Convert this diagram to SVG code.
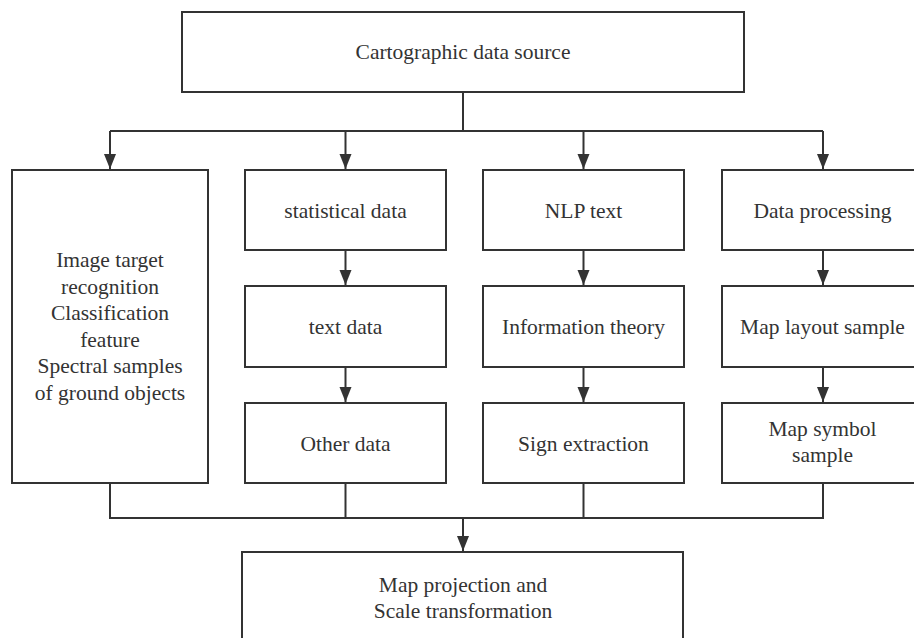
<svg xmlns="http://www.w3.org/2000/svg" width="914" height="638" viewBox="0 0 914 638">
<style>
.box{fill:#fff;stroke:#333;stroke-width:2}
.t{font-family:'Liberation Serif','Times New Roman',serif;font-size:21.5px;fill:#333;text-anchor:middle}
.c{fill:none;stroke:#333;stroke-width:2}
</style>
<defs>
<marker id="ah" markerUnits="userSpaceOnUse" markerWidth="16" markerHeight="13" refX="15" refY="6" orient="auto">
<path d="M0,0 L15,6 L0,12 z" fill="#333"/>
</marker>
</defs>
<rect width="914" height="638" fill="#fff"/>
<g id="connectors">
<path class="c" d="M463,92 V131"/>
<path class="c" d="M110,131 H823"/>
<path class="c" d="M110,131 V169" marker-end="url(#ah)"/>
<path class="c" d="M345.5,131 V169" marker-end="url(#ah)"/>
<path class="c" d="M583.5,131 V169" marker-end="url(#ah)"/>
<path class="c" d="M823,131 V169" marker-end="url(#ah)"/>
<path class="c" d="M345.5,250 V285" marker-end="url(#ah)"/>
<path class="c" d="M345.5,367 V402" marker-end="url(#ah)"/>
<path class="c" d="M583.5,250 V285" marker-end="url(#ah)"/>
<path class="c" d="M583.5,367 V402" marker-end="url(#ah)"/>
<path class="c" d="M823,250 V285" marker-end="url(#ah)"/>
<path class="c" d="M823,367 V402" marker-end="url(#ah)"/>
<path class="c" d="M110,483 V518 H823 V483"/>
<path class="c" d="M345.5,483 V518"/>
<path class="c" d="M583.5,483 V518"/>
<path class="c" d="M463,518 V551" marker-end="url(#ah)"/>
</g>
<g id="source">
<rect class="box" x="182" y="12" width="562" height="80"/>
<text class="t" x="463" y="59">Cartographic data source</text>
</g>
<g id="image">
<rect class="box" x="12" y="170" width="196" height="313"/>
<text class="t" x="110" y="267">Image target<tspan x="110" dy="26.5">recognition</tspan><tspan x="110" dy="26.5">Classification</tspan><tspan x="110" dy="26.5">feature</tspan><tspan x="110" dy="26.5">Spectral samples</tspan><tspan x="110" dy="26.5">of ground objects</tspan></text>
</g>
<g id="statistical">
<rect class="box" x="245" y="170" width="201" height="80"/>
<text class="t" x="345.5" y="217.5">statistical data</text>
</g>
<g id="textdata">
<rect class="box" x="245" y="286" width="201" height="81"/>
<text class="t" x="345.5" y="334">text data</text>
</g>
<g id="other">
<rect class="box" x="245" y="403" width="201" height="80"/>
<text class="t" x="345.5" y="450.5">Other data</text>
</g>
<g id="nlp">
<rect class="box" x="483" y="170" width="201" height="80"/>
<text class="t" x="583.5" y="217.5">NLP text</text>
</g>
<g id="info">
<rect class="box" x="483" y="286" width="201" height="81"/>
<text class="t" x="583.5" y="334">Information theory</text>
</g>
<g id="sign">
<rect class="box" x="483" y="403" width="201" height="80"/>
<text class="t" x="583.5" y="450.5">Sign extraction</text>
</g>
<g id="processing">
<rect class="box" x="722" y="170" width="201" height="80"/>
<text class="t" x="822.5" y="217.5">Data processing</text>
</g>
<g id="layout">
<rect class="box" x="722" y="286" width="201" height="81"/>
<text class="t" x="822.5" y="334">Map layout sample</text>
</g>
<g id="symbol">
<rect class="box" x="722" y="403" width="201" height="80"/>
<text class="t" x="822.5" y="436">Map symbol<tspan x="822.5" dy="26">sample</tspan></text>
</g>
<g id="projection">
<rect class="box" x="242" y="552" width="441" height="100"/>
<text class="t" x="463" y="592">Map projection and<tspan x="463" dy="26">Scale transformation</tspan></text>
</g>
</svg>
